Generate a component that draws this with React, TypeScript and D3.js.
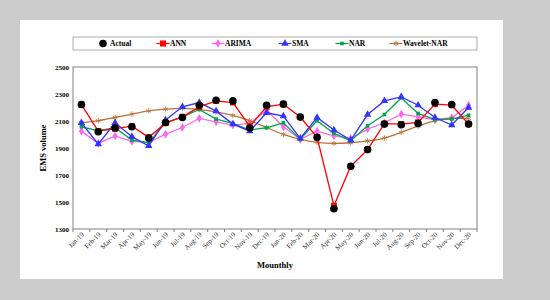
import React, { useEffect, useRef } from 'react';
import * as d3 from 'd3';

const months = [
  'Jan-19', 'Feb-19', 'Mar-19', 'Apr-19', 'May-19', 'Jun-19', 'Jul-19', 'Aug-19',
  'Sep-19', 'Oct-19', 'Nov-19', 'Dec-19', 'Jan-20', 'Feb-20', 'Mar-20', 'Apr-20',
  'May-20', 'Jun-20', 'Jul-20', 'Aug-20', 'Sep-20', 'Oct-20', 'Nov-20', 'Dec-20',
];

const actual = [2222, 2020, 2048, 2057, 1974, 2089, 2126, 2217, 2254, 2249, 2048, 2217,
  2225, 2129, 1979, 1450, 1765, 1888, 2077, 2072, 2082, 2237, 2222, 2077];
const ann = [2222, 2025, 2043, 2062, 1979, 2084, 2131, 2205, 2249, 2237, 2062, 2205,
  2225, 2129, 1979, 1472, 1765, 1888, 2080, 2077, 2090, 2225, 2217, 2077];
const arima = [2025, 1934, 1989, 1949, 1942, 2003, 2052, 2119, 2094, 2070, 2082, 2180,
  2057, 1964, 2025, 1989, 1971, 2040, 2087, 2151, 2131, 2111, 2124, 2217];
const sma = [2087, 1929, 2087, 1984, 1915, 2107, 2205, 2237, 2173, 2077, 2025, 2161,
  2136, 1971, 2126, 2033, 1959, 2148, 2249, 2279, 2217, 2126, 2070, 2200];
const nar = [2057, 2028, 2050, 1959, 1939, 2089, 2131, 2185, 2114, 2082, 2033, 2050,
  2087, 1964, 2102, 2008, 1954, 2065, 2148, 2271, 2156, 2111, 2114, 2143];
const waveletNar = [2087, 2102, 2126, 2151, 2175, 2188, 2193, 2185, 2168, 2141, 2102, 2052,
  2001, 1964, 1942, 1934, 1939, 1952, 1974, 2016, 2062, 2102, 2119, 2119];

const yTicks = [1300, 1500, 1700, 1900, 2100, 2300, 2500];

const series = [
  { name: 'Actual', values: actual, color: '#000000', marker: 'dot', line: false },
  { name: 'ANN', values: ann, color: '#ff0000', marker: 'square', line: true },
  { name: 'ARIMA', values: arima, color: '#ff66ee', marker: 'diamond', line: true },
  { name: 'SMA', values: sma, color: '#3333ff', marker: 'triangle', line: true },
  { name: 'NAR', values: nar, color: '#00a550', marker: 'smallsq', line: true },
  { name: 'Wavelet-NAR', values: waveletNar, color: '#b8733a', marker: 'star', line: true, smooth: true },
];

const drawOrder = ['ARIMA', 'Wavelet-NAR', 'NAR', 'SMA', 'ANN', 'Actual'];

function drawMarker(g: any, type: string, x: number, y: number, color: string) {
  if (type === 'dot') {
    g.append('circle').attr('cx', x).attr('cy', y).attr('r', 3.8).attr('fill', color);
  } else if (type === 'square') {
    g.append('rect').attr('x', x - 3).attr('y', y - 3).attr('width', 6).attr('height', 6).attr('fill', color);
  } else if (type === 'smallsq') {
    g.append('rect').attr('x', x - 1.8).attr('y', y - 1.8).attr('width', 3.6).attr('height', 3.6).attr('fill', color);
  } else if (type === 'diamond') {
    g.append('path').attr('d', d3.symbol(d3.symbolDiamond, 22)()).attr('transform', `translate(${x},${y})`).attr('fill', color);
  } else if (type === 'triangle') {
    g.append('path').attr('d', d3.symbol(d3.symbolTriangle, 24)()).attr('transform', `translate(${x},${y})`).attr('fill', color);
  } else if (type === 'star') {
    g.append('path').attr('d', d3.symbol(d3.symbolAsterisk, 20)()).attr('transform', `translate(${x},${y})`)
      .attr('fill', 'none').attr('stroke', color).attr('stroke-width', 0.8);
  }
}

const Chart = () => {
  const ref = useRef<SVGSVGElement>(null);

  useEffect(() => {
    const width = 550;
    const height = 300;
    const svg = d3.select(ref.current);
    svg.selectAll('*').remove();

    svg.append('rect').attr('width', width).attr('height', height).attr('fill', '#cccccc');
    svg.append('rect').attr('x', 20).attr('y', 20).attr('width', 483).attr('height', 259).attr('fill', '#ffffff');

    const left = 73;
    const right = 477;
    const top = 67;
    const bottom = 229;

    const x = d3.scaleBand().domain(months).range([left, right]);
    const y = d3.scaleLinear().domain([1300, 2500]).range([bottom, top]);
    const cx = (i: number) => (x(months[i]) as number) + x.bandwidth() / 2;

    // plot frame
    svg.append('rect').attr('x', left).attr('y', top).attr('width', right - left).attr('height', bottom - top)
      .attr('fill', 'none').attr('stroke', '#808080').attr('stroke-width', 1);

    // y axis labels
    const font = '"Liberation Serif", "Times New Roman", serif';
    svg.append('g').selectAll('text').data(yTicks).enter().append('text')
      .attr('x', left - 4).attr('y', (d) => y(d) + 2.5)
      .attr('text-anchor', 'end').attr('font-family', font).attr('font-size', 7).attr('font-weight', 'bold')
      .text((d) => d);

    // x ticks
    const bounds = months.map((m) => x(m) as number).concat([right]);
    svg.append('g').selectAll('line').data(bounds).enter().append('line')
      .attr('x1', (d) => d).attr('x2', (d) => d).attr('y1', bottom).attr('y2', bottom + 3)
      .attr('stroke', '#808080');

    svg.append('g').selectAll('text').data(months).enter().append('text')
      .attr('transform', (d, i) => `translate(${cx(i) + 3},${bottom + 6}) rotate(-45)`)
      .attr('text-anchor', 'end').attr('font-family', font).attr('font-size', 7)
      .attr('fill', '#333')
      .text((d) => d);

    // axis titles
    svg.append('text').attr('x', (left + right) / 2).attr('y', 268).attr('text-anchor', 'middle')
      .attr('font-family', font).attr('font-size', 8.5).attr('font-weight', 'bold').text('Mounthly');
    svg.append('text').attr('transform', `translate(46,${(top + bottom) / 2}) rotate(-90)`)
      .attr('text-anchor', 'middle').attr('font-family', font).attr('font-size', 8.5).attr('font-weight', 'bold')
      .text('EMS volume');

    // lines
    const lineStraight = d3.line<number>().x((d, i) => cx(i)).y((d) => y(d));
    const lineSmooth = d3.line<number>().x((d, i) => cx(i)).y((d) => y(d)).curve(d3.curveCatmullRom);

    drawOrder.forEach((name) => {
      const s: any = series.find((d) => d.name === name);
      const g = svg.append('g');
      if (s.line) {
        g.append('path').datum(s.values)
          .attr('d', s.smooth ? lineSmooth : lineStraight)
          .attr('fill', 'none').attr('stroke', s.color).attr('stroke-width', 1.3);
      }
      s.values.forEach((v: number, i: number) => drawMarker(g, s.marker, cx(i), y(v), s.color));
    });

    // legend
    svg.append('rect').attr('x', 73).attr('y', 37).attr('width', 404).attr('height', 13)
      .attr('fill', '#ffffff').attr('stroke', '#999999').attr('stroke-width', 0.8);
    const legendX = [103, 163, 218, 285, 342, 396];
    series.forEach((s: any, i) => {
      const lx = legendX[i];
      const ly = 43.5;
      const g = svg.append('g');
      if (s.line) {
        g.append('line').attr('x1', lx - 6.5).attr('x2', lx + 6.5).attr('y1', ly).attr('y2', ly)
          .attr('stroke', s.color).attr('stroke-width', 1.2);
      }
      drawMarker(g, s.marker, lx, ly, s.color);
      g.append('text').attr('x', s.line ? lx + 7 : lx + 7).attr('y', ly + 2.8)
        .attr('font-family', font).attr('font-size', 7.5).attr('font-weight', 'bold')
        .text(s.name);
    });
  }, []);

  return <svg ref={ref} width={550} height={300} style={{ position: 'absolute', left: 0, top: 0 }} />;
};

export default function App() {
  return <Chart />;
}
